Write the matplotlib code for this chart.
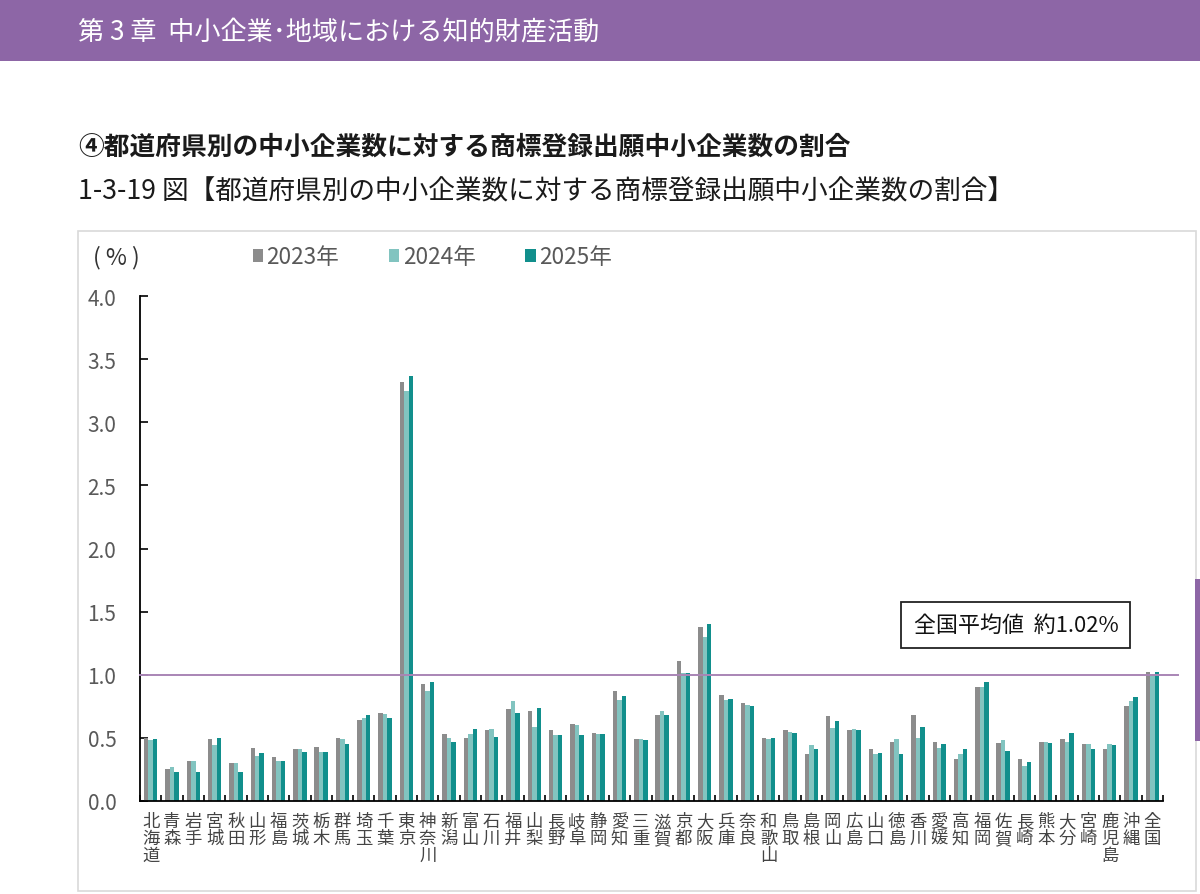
import matplotlib
matplotlib.use("Agg")
import matplotlib.pyplot as plt
from matplotlib.patches import Rectangle, Patch
import numpy as np

plt.rcParams['font.family'] = ['Noto Sans CJK JP', 'DejaVu Sans']

prefectures = ["北海道", "青森", "岩手", "宮城", "秋田", "山形", "福島", "茨城", "栃木", "群馬",
               "埼玉", "千葉", "東京", "神奈川", "新潟", "富山", "石川", "福井", "山梨", "長野",
               "岐阜", "静岡", "愛知", "三重", "滋賀", "京都", "大阪", "兵庫", "奈良", "和歌山",
               "鳥取", "島根", "岡山", "広島", "山口", "徳島", "香川", "愛媛", "高知", "福岡",
               "佐賀", "長崎", "熊本", "大分", "宮崎", "鹿児島", "沖縄", "全国"]

v2023 = [0.50, 0.25, 0.32, 0.49, 0.30, 0.42, 0.35, 0.41, 0.43, 0.50,
         0.64, 0.70, 3.32, 0.93, 0.53, 0.50, 0.56, 0.73, 0.71, 0.56,
         0.61, 0.54, 0.87, 0.49, 0.68, 1.11, 1.38, 0.84, 0.78, 0.50,
         0.56, 0.37, 0.67, 0.56, 0.41, 0.47, 0.68, 0.47, 0.33, 0.90,
         0.46, 0.33, 0.47, 0.49, 0.45, 0.41, 0.75, 1.02]
v2024 = [0.48, 0.27, 0.32, 0.44, 0.30, 0.36, 0.32, 0.41, 0.39, 0.49,
         0.66, 0.69, 3.25, 0.87, 0.50, 0.53, 0.57, 0.79, 0.59, 0.52,
         0.60, 0.53, 0.80, 0.49, 0.71, 1.01, 1.30, 0.80, 0.76, 0.49,
         0.55, 0.44, 0.58, 0.57, 0.37, 0.49, 0.50, 0.42, 0.37, 0.90,
         0.48, 0.28, 0.47, 0.47, 0.45, 0.45, 0.79, 1.00]
v2025 = [0.49, 0.23, 0.23, 0.50, 0.23, 0.38, 0.32, 0.39, 0.39, 0.45,
         0.68, 0.66, 3.37, 0.94, 0.47, 0.57, 0.51, 0.70, 0.74, 0.52,
         0.52, 0.53, 0.83, 0.48, 0.68, 1.01, 1.40, 0.81, 0.75, 0.50,
         0.54, 0.41, 0.63, 0.56, 0.38, 0.37, 0.59, 0.45, 0.41, 0.94,
         0.40, 0.31, 0.46, 0.54, 0.41, 0.44, 0.82, 1.02]

years = ["2023年", "2024年", "2025年"]
colors = ["#8C8C8C", "#82C4C0", "#118F8C"]
avg_value = 1.0
avg_label = "全国平均値  約1.02%"

W, H = 1200, 895
fig = plt.figure(figsize=(W / 100, H / 100), dpi=100)
fig.patch.set_facecolor("white")

def fx(px):
    return px / W

def fy(py):
    return 1 - py / H

# header band
fig.patches.append(Rectangle((0, fy(62)), 1, 62 / H, transform=fig.transFigure,
                             facecolor="#8D66A6", edgecolor="none", zorder=0))
fig.text(fx(78), fy(32), "第 3 章  中小企業･地域における知的財産活動", color="white",
         fontsize=18.8, va="center", ha="left")
fig.text(fx(78), fy(147), "④都道府県別の中小企業数に対する商標登録出願中小企業数の割合",
         fontsize=18.5, fontweight="bold", va="center", ha="left", color="#1a1a1a")
fig.text(fx(78), fy(192), "1-3-19 図【都道府県別の中小企業数に対する商標登録出願中小企業数の割合】",
         fontsize=19.2, va="center", ha="left", color="#1a1a1a")

# chart frame
fig.patches.append(Rectangle((fx(78), fy(892)), fx(1196 - 78), (892 - 232) / H,
                             transform=fig.transFigure, facecolor="none",
                             edgecolor="#D9D9D9", lw=1.2, zorder=0))
# purple side marker
fig.patches.append(Rectangle((fx(1195), fy(742)), fx(6), (742 - 580) / H,
                             transform=fig.transFigure, facecolor="#8D66A6",
                             edgecolor="none", zorder=0))

ax = fig.add_axes([fx(140), fy(802), fx(1163 - 140), (802 - 297) / H])
x = np.arange(len(prefectures))
bw = 0.21
for i, (vals, c, yr) in enumerate(zip([v2023, v2024, v2025], colors, years)):
    ax.bar(x + (i - 1) * bw, vals, width=bw, color=c, label=yr, zorder=2)

ax.set_xlim(-0.5, len(prefectures) - 0.5)
ax.set_ylim(0, 4.0)
ax.set_yticks(np.arange(0, 4.01, 0.5))
ax.set_yticklabels([f"{v:.1f}" for v in np.arange(0, 4.01, 0.5)])
ax.set_xticks(x)
ax.set_xticklabels(["\n".join(p) for p in prefectures], linespacing=0.92)
ax.set_xticks(np.arange(-0.5, len(prefectures) - 0.4, 1), minor=True)
ax.tick_params(axis="x", which="major", length=0, pad=8, labelsize=12.5, labelcolor="#444444")
ax.tick_params(axis="x", which="minor", direction="in", length=4, width=1.2)
ax.tick_params(axis="y", direction="in", length=6, width=1.2, pad=17,
               labelsize=15, labelcolor="#595959")
for s in ["top", "right"]:
    ax.spines[s].set_visible(False)
for s in ["left", "bottom"]:
    ax.spines[s].set_linewidth(1.3)
for lab in ax.get_xticklabels():
    lab.set_va("top")

# average line extending a bit past the axis
ax.plot([-0.5, len(prefectures) - 0.5 + 0.7], [avg_value, avg_value], color="#A985B5",
        lw=1.4, zorder=3, clip_on=False)

ax.text(40.6, 1.395, avg_label, fontsize=15.8, ha="center", va="center", color="#111111",
        bbox=dict(boxstyle="square,pad=0.55", facecolor="white", edgecolor="#222222", lw=1.3),
        zorder=5)

fig.text(fx(93), fy(258), "( % )", fontsize=16.5, va="center", ha="left", color="#333333")

handles = [Patch(facecolor=c, edgecolor="none") for c in colors]
leg = fig.legend(handles, years, loc="center left", bbox_to_anchor=(fx(253), fy(258)),
                 ncol=3, frameon=False, handlelength=0.45, handleheight=0.45,
                 handletextpad=0.15, columnspacing=2.2, fontsize=16.3,
                 labelcolor="#595959", borderaxespad=0, borderpad=0)

fig.savefig("out.png", dpi=100)
